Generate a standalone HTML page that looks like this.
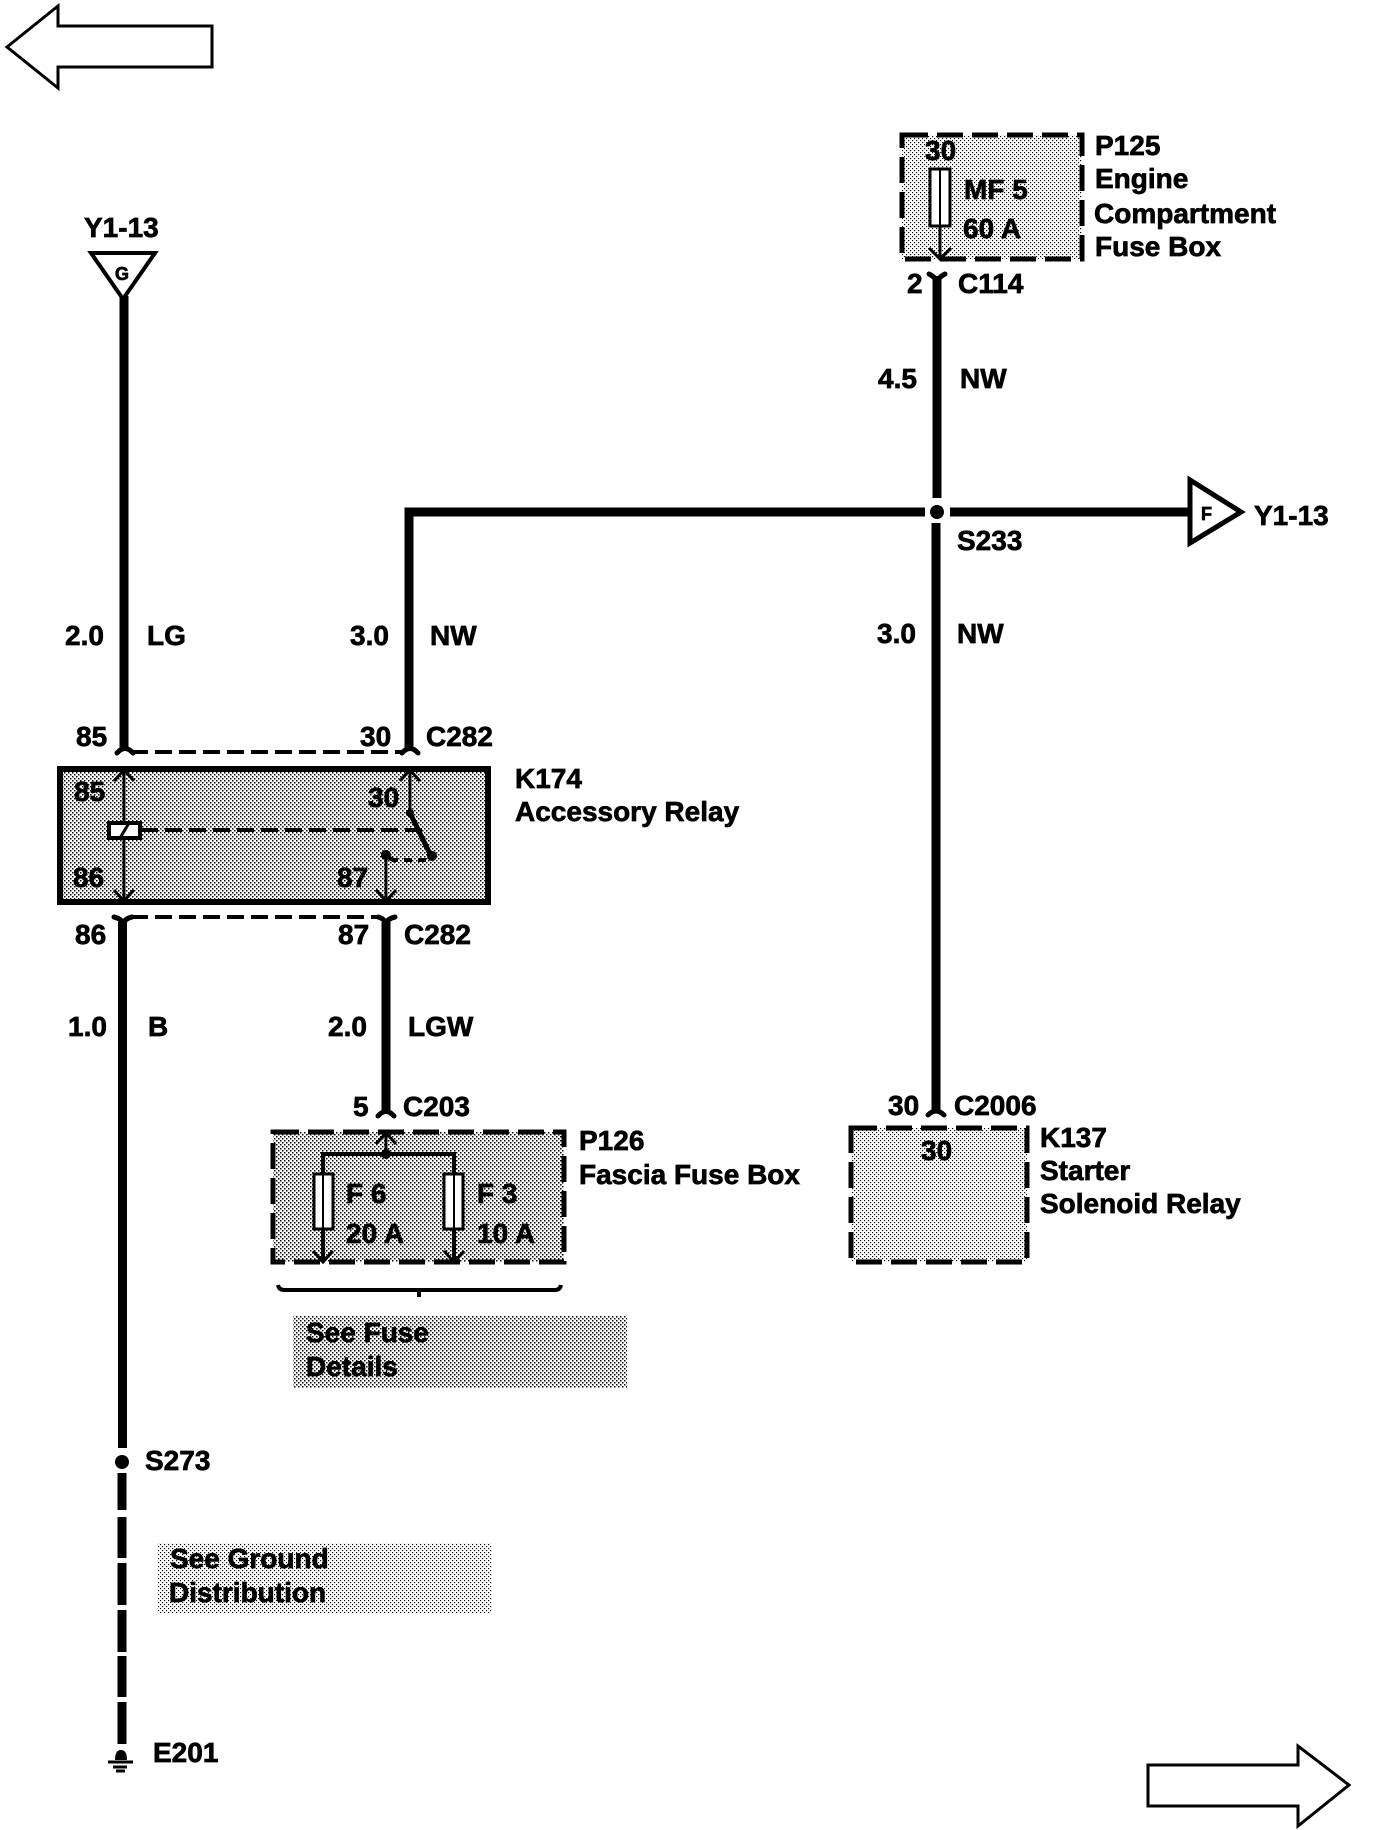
<!DOCTYPE html>
<html>
<head>
<meta charset="utf-8">
<style>
html,body{margin:0;padding:0;background:#fff;}
svg{display:block;}
text{font-family:"Liberation Sans",sans-serif;font-weight:bold;font-size:28px;fill:#000;stroke:#000;stroke-width:.7px;letter-spacing:0;}
text.s{font-size:18px;letter-spacing:0;}
.w{stroke:#000;stroke-width:9;fill:none;}
.t{stroke:#000;stroke-width:3;fill:none;}
.d{stroke:#000;stroke-width:5;fill:none;stroke-dasharray:26 9;}
.c{stroke:#000;stroke-width:4;fill:none;stroke-dasharray:17 7;}
.f{stroke:#000;stroke-width:5;fill:none;stroke-linecap:round;}
</style>
</head>
<body>
<svg width="1376" height="1830" viewBox="0 0 1376 1830" xmlns="http://www.w3.org/2000/svg">
<defs>
<pattern id="p1" width="4" height="4" patternUnits="userSpaceOnUse">
<rect x="0" y="0" width="1.5" height="1.5" fill="#000"/><rect x="2" y="2" width="1.5" height="1.5" fill="#000"/>
</pattern>
<pattern id="p2" width="4" height="4" patternUnits="userSpaceOnUse">
<rect x="0" y="0" width="1.15" height="1.15" fill="#000"/><rect x="2" y="2" width="1.15" height="1.15" fill="#000"/>
</pattern>
</defs>
<rect width="1376" height="1830" fill="#fff"/>

<!-- nav arrows -->
<polygon points="7,47 58,6 58,26 212,26 212,67 58,67 58,88" fill="#fff" stroke="#000" stroke-width="3"/>
<polygon points="1148,1765 1298,1765 1298,1746 1349,1785 1298,1826 1298,1806 1148,1806" fill="#fff" stroke="#000" stroke-width="3"/>

<!-- P125 -->
<rect x="902" y="135" width="180" height="124" fill="url(#p2)"/>
<rect x="902" y="135" width="180" height="124" class="d"/>
<line x1="940" y1="226" x2="940" y2="259" class="t"/>
<path d="M929 248 L940 259 L951 248" class="t"/>
<rect x="930" y="169" width="20" height="57" fill="#fff" stroke="#000" stroke-width="3"/>
<line x1="940" y1="169" x2="940" y2="226" stroke="#000" stroke-width="2"/>
<text x="925" y="160">30</text>
<text x="964" y="199">MF 5</text>
<text x="963" y="238">60 A</text>
<text x="1095" y="155">P125</text>
<text x="1095" y="188">Engine</text>
<text x="1094" y="223">Compartment</text>
<text x="1095" y="256">Fuse Box</text>

<!-- right vertical wire -->
<line x1="937" y1="276" x2="937" y2="498" class="w"/>
<path d="M929 274 Q937 278 937 284 Q937 278 945 274" class="f"/>
<text x="907" y="293">2</text>
<text x="958" y="293">C114</text>
<text x="878" y="388">4.5</text>
<text x="960" y="388">NW</text>
<circle cx="937" cy="512" r="7"/>
<path d="M925 512 H409 V750" class="w"/>
<line x1="950" y1="512" x2="1190" y2="512" class="w"/>
<polygon points="1190,480 1241,512 1190,543" fill="#fff" stroke="#000" stroke-width="5"/>
<text class="s" x="1201" y="520">F</text>
<text x="1254" y="525">Y1-13</text>
<text x="957" y="550">S233</text>
<line x1="936" y1="523" x2="936" y2="1112" class="w"/>
<path d="M928 1115 Q936 1107 944 1115" class="f"/>
<text x="877" y="643">3.0</text>
<text x="957" y="643">NW</text>
<text x="888" y="1115">30</text>
<text x="954" y="1115">C2006</text>

<!-- K137 -->
<rect x="851" y="1128" width="176" height="134" fill="url(#p2)"/>
<rect x="851" y="1128" width="176" height="134" class="d"/>
<text x="921" y="1160">30</text>
<text x="1040" y="1147">K137</text>
<text x="1040" y="1180">Starter</text>
<text x="1040" y="1213">Solenoid Relay</text>

<!-- Y1-13 G -->
<text x="84" y="237">Y1-13</text>
<polygon points="91,253 155,253 123,299" fill="#fff" stroke="#000" stroke-width="4"/>
<text class="s" x="115" y="280">G</text>
<line x1="124" y1="296" x2="124" y2="750" class="w"/>
<text x="65" y="645">2.0</text>
<text x="147" y="645">LG</text>
<text x="350" y="645">3.0</text>
<text x="430" y="645">NW</text>

<!-- C282 top -->
<text x="76" y="746">85</text>
<text x="360" y="746">30</text>
<text x="426" y="746">C282</text>
<line x1="131" y1="752" x2="402" y2="752" class="c"/>
<path d="M117 753 Q125 744 133 753" class="f"/>
<path d="M402 753 Q410 744 418 753" class="f"/>

<!-- K174 -->
<rect x="60" y="769" width="428" height="133" fill="url(#p1)" stroke="#000" stroke-width="6"/>
<line x1="124" y1="770" x2="124" y2="901" class="t"/>
<path d="M114 781 L124 770 L134 781 M114 890 L124 901 L134 890" class="t"/>
<path d="M410 770 V813" class="t"/>
<path d="M400 781 L410 770 L420 781" class="t"/>
<circle cx="410" cy="813" r="4"/>
<path d="M410 813 L431 856" stroke="#000" stroke-width="5" fill="none"/>
<circle cx="432" cy="856" r="5"/>
<line x1="426" y1="860" x2="392" y2="860" class="t" stroke-dasharray="8 6" style="stroke-width:4"/>
<path d="M386 856 L395 861" stroke="#000" stroke-width="4" fill="none"/>
<circle cx="386" cy="855" r="5"/>
<line x1="386" y1="855" x2="386" y2="901" class="t"/>
<path d="M376 890 L386 901 L396 890" class="t"/>
<line x1="141" y1="830" x2="422" y2="830" stroke="#000" stroke-width="4" stroke-dasharray="17 7"/>
<rect x="109" y="823" width="31" height="15" fill="#fff" stroke="#000" stroke-width="4"/>
<line x1="120" y1="838" x2="129" y2="823" stroke="#000" stroke-width="3"/>
<text x="74" y="801">85</text>
<text x="368" y="807">30</text>
<text x="73" y="887">86</text>
<text x="337" y="887">87</text>
<text x="515" y="788">K174</text>
<text x="515" y="821">Accessory Relay</text>

<!-- C282 bottom -->
<line x1="131" y1="917" x2="378" y2="917" class="c"/>
<path d="M114 917 Q123 919 123 926 Q123 919 132 917" class="f"/>
<path d="M378 917 Q386 919 386 926 Q386 919 395 917" class="f"/>
<text x="75" y="944">86</text>
<text x="338" y="944">87</text>
<text x="404" y="944">C282</text>
<text x="68" y="1036">1.0</text>
<text x="148" y="1036">B</text>
<text x="328" y="1036">2.0</text>
<text x="408" y="1036">LGW</text>
<line x1="386" y1="922" x2="386" y2="1113" class="w"/>
<path d="M378 1116 Q386 1107 394 1116" class="f"/>
<text x="353" y="1116">5</text>
<text x="403" y="1116">C203</text>

<!-- P126 -->
<rect x="273" y="1132" width="291" height="130" fill="url(#p1)"/>
<rect x="273" y="1132" width="291" height="130" class="d"/>
<line x1="386" y1="1133" x2="386" y2="1154" class="t"/>
<path d="M376 1144 L386 1133 L396 1144" class="t"/>
<circle cx="386" cy="1154" r="5"/>
<path d="M323 1262 V1154 H454 V1262" stroke="#000" stroke-width="4" fill="none"/>
<path d="M313 1251 L323 1262 L333 1251 M444 1251 L454 1262 L464 1251" class="t"/>
<rect x="314" y="1174" width="19" height="55" fill="#fff" stroke="#000" stroke-width="3"/>
<line x1="323" y1="1174" x2="323" y2="1229" stroke="#000" stroke-width="2"/>
<rect x="444" y="1174" width="19" height="55" fill="#fff" stroke="#000" stroke-width="3"/>
<line x1="454" y1="1174" x2="454" y2="1229" stroke="#000" stroke-width="2"/>
<text x="346" y="1203">F 6</text>
<text x="346" y="1243">20 A</text>
<text x="477" y="1203">F 3</text>
<text x="477" y="1243">10 A</text>
<text x="579" y="1150">P126</text>
<text x="579" y="1184">Fascia Fuse Box</text>

<!-- brace -->
<path d="M278 1285 Q279 1290 284 1290 H555 Q560 1290 561 1285 M419 1290 V1297" stroke="#000" stroke-width="4" fill="none"/>

<!-- See Fuse -->
<rect x="293" y="1316" width="334" height="72" fill="url(#p1)"/>
<text x="306" y="1342">See Fuse</text>
<text x="306" y="1376">Details</text>

<!-- left wire -->
<line x1="122.500" y1="922" x2="122.500" y2="1448" class="w"/>
<circle cx="122" cy="1462" r="7"/>
<path d="M122 1473 V1510 M122 1517 V1558 M122 1563 V1605 M122 1610 V1652 M122 1656 V1697 M122 1702 V1744" class="w"/>
<text x="145" y="1470">S273</text>

<!-- See Ground -->
<rect x="157" y="1543" width="335" height="70" fill="url(#p2)"/>
<text x="170" y="1568">See Ground</text>
<text x="169" y="1602">Distribution</text>

<!-- ground -->
<path d="M115 1760 Q115 1750 121 1750 Q127 1750 127 1760 Z"/>
<path d="M108 1762 H133 M113 1767 H127 M116 1771 H125" stroke="#000" stroke-width="3" fill="none"/>
<text x="153" y="1762">E201</text>
</svg>
</body>
</html>
